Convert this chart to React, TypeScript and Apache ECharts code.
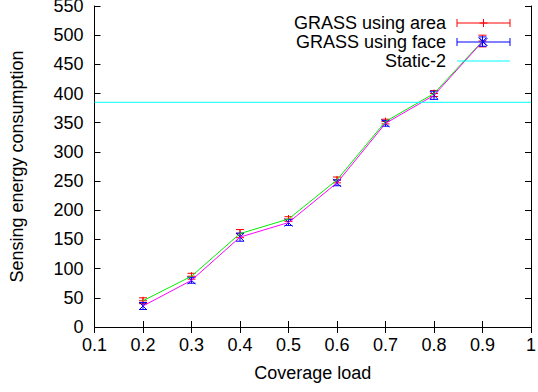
import React, { useEffect, useRef } from "react";
import * as echarts from "echarts";

// Coverage load values where both GRASS variants were measured
const coverageLoad = [0.2, 0.3, 0.4, 0.5, 0.6, 0.7, 0.8, 0.9];
// GRASS using area: mean sensing energy and error half-width
const areaEnergy = [45, 87, 160, 185, 252, 352, 400, 490];
const areaError = [5, 5, 7, 4, 5, 4, 5, 10];
// GRASS using face: mean sensing energy and error half-width
const faceEnergy = [36, 80, 154, 179, 247, 349, 397, 489];
const faceError = [6, 5, 7, 5, 5, 5, 7, 8];
// Static-2 constant level
const static2Level = 385;

// Axis ranges
const xMin = 0.1;
const xMax = 1;
const xStep = 0.1;
const yMin = 0;
const yMax = 550;
const yStep = 50;

const FONT = "'Liberation Sans', Arial, Helvetica, sans-serif";
const FS = 18;

const RED = "#ff0000";
const GREEN = "#00ee00";
const BLUE = "#0000ff";
const MAGENTA = "#ff00ff";
const CYAN = "#00ffff";

type MarkerKind = "plus" | "cross";

function markerLines(cx: number, cy: number, kind: MarkerKind, r: number, color: string) {
  const style = { stroke: color, lineWidth: 1 };
  if (kind === "plus") {
    return [
      { type: "line", shape: { x1: cx - r, y1: cy, x2: cx + r, y2: cy }, style },
      { type: "line", shape: { x1: cx, y1: cy - r, x2: cx, y2: cy + r }, style },
    ];
  }
  return [
    { type: "line", shape: { x1: cx - r, y1: cy - r, x2: cx + r, y2: cy + r }, style },
    { type: "line", shape: { x1: cx - r, y1: cy + r, x2: cx + r, y2: cy - r }, style },
  ];
}

function errorBarSeries(name: string, values: number[], errors: number[], color: string, kind: MarkerKind) {
  return {
    name,
    type: "custom",
    xAxisIndex: 0,
    yAxisIndex: 0,
    data: coverageLoad.map((x, i) => [x, values[i], errors[i]]),
    renderItem: (_params: any, api: any) => {
      const x = api.value(0);
      const y = api.value(1);
      const e = api.value(2);
      const c = api.coord([x, y]);
      const top = api.coord([x, y + e]);
      const bot = api.coord([x, y - e]);
      const cap = 4;
      const style = { stroke: color, lineWidth: 1 };
      return {
        type: "group",
        children: [
          { type: "line", shape: { x1: c[0], y1: top[1], x2: c[0], y2: bot[1] }, style },
          { type: "line", shape: { x1: c[0] - cap, y1: top[1], x2: c[0] + cap, y2: top[1] }, style },
          { type: "line", shape: { x1: c[0] - cap, y1: bot[1], x2: c[0] + cap, y2: bot[1] }, style },
          ...markerLines(c[0], c[1], kind, 4, color),
        ],
      };
    },
    z: 3,
  };
}

function lineSeries(values: number[], color: string) {
  return {
    type: "line",
    xAxisIndex: 0,
    yAxisIndex: 0,
    data: coverageLoad.map((x, i) => [x, values[i]]),
    showSymbol: false,
    symbol: "none",
    lineStyle: { color, width: 1 },
    itemStyle: { color },
    z: 3,
  };
}

// Key entries: right-aligned title followed by a sample glyph
function keyGraphics() {
  const textRight = 446;
  const sx1 = 457;
  const sx2 = 510;
  const mid = (sx1 + sx2) / 2;
  const rows = [
    { label: "GRASS using area", y: 23, color: RED, kind: "plus" as MarkerKind, err: true },
    { label: "GRASS using face", y: 42, color: BLUE, kind: "cross" as MarkerKind, err: true },
    { label: "Static-2", y: 61, color: CYAN, kind: null, err: false },
  ];
  const out: any[] = [];
  rows.forEach((r) => {
    out.push({
      type: "text",
      x: textRight,
      y: r.y,
      style: {
        text: r.label,
        font: `${FS}px ${FONT}`,
        lineHeight: 18,
        fill: "#000",
        textAlign: "right",
        textVerticalAlign: "middle",
      },
      z: 10,
    });
    const style = { stroke: r.color, lineWidth: 1 };
    out.push({ type: "line", shape: { x1: sx1, y1: r.y, x2: sx2, y2: r.y }, style, z: 10 });
    if (r.err) {
      out.push({ type: "line", shape: { x1: sx1, y1: r.y - 4, x2: sx1, y2: r.y + 4 }, style, z: 10 });
      out.push({ type: "line", shape: { x1: sx2, y1: r.y - 4, x2: sx2, y2: r.y + 4 }, style, z: 10 });
      markerLines(mid, r.y, r.kind as MarkerKind, 4, r.color).forEach((m) => out.push({ ...m, z: 10 }));
    }
  });
  return out;
}

const axisBase = {
  type: "value" as const,
  axisLine: { show: true, lineStyle: { color: "#000", width: 1 } },
  axisTick: { show: true, inside: true, length: 6, lineStyle: { color: "#000", width: 1 } },
  splitLine: { show: false },
};

export default function App() {
  const ref = useRef<HTMLDivElement>(null);

  useEffect(() => {
    if (!ref.current) return;
    const chart = echarts.init(ref.current, undefined, { renderer: "svg" });
    const fmtX = (v: number) => (Math.abs(v - 1) < 1e-9 ? "1" : v.toFixed(1));
    chart.setOption({
      animation: false,
      backgroundColor: "#fff",
      textStyle: { fontFamily: FONT },
      grid: {
        left: 94.5,
        right: 7,
        top: 6,
        bottom: 65,
        containLabel: false,
        outerBoundsMode: "none",
      },
      xAxis: [
        {
          ...axisBase,
          position: "bottom",
          min: xMin,
          max: xMax,
          interval: xStep,
          name: "Coverage load",
          nameLocation: "middle",
          nameGap: 37,
          nameTextStyle: { fontSize: FS, color: "#000", fontFamily: FONT },
          axisLabel: { fontSize: FS, color: "#000", margin: 9, fontFamily: FONT, formatter: fmtX },
        },
        {
          ...axisBase,
          position: "top",
          min: xMin,
          max: xMax,
          interval: xStep,
          axisLabel: { show: false },
        },
      ],
      yAxis: [
        {
          ...axisBase,
          position: "left",
          min: yMin,
          max: yMax,
          interval: yStep,
          name: "Sensing energy consumption",
          nameLocation: "middle",
          nameGap: 69,
          nameTextStyle: { fontSize: FS, color: "#000", fontFamily: FONT },
          axisLabel: { fontSize: FS, color: "#000", margin: 11, fontFamily: FONT },
        },
        {
          ...axisBase,
          position: "right",
          min: yMin,
          max: yMax,
          interval: yStep,
          axisLabel: { show: false },
        },
      ],
      series: [
        errorBarSeries("GRASS using area", areaEnergy, areaError, RED, "plus"),
        lineSeries(areaEnergy, GREEN),
        errorBarSeries("GRASS using face", faceEnergy, faceError, BLUE, "cross"),
        lineSeries(faceEnergy, MAGENTA),
        {
          name: "Static-2",
          type: "line",
          data: [
            [xMin, static2Level],
            [xMax, static2Level],
          ],
          symbol: "none",
          lineStyle: { color: CYAN, width: 1 },
          z: 3,
        },
      ],
      graphic: keyGraphics(),
    });
    return () => chart.dispose();
  }, []);

  return <div ref={ref} style={{ width: 538, height: 392, position: "absolute", left: 0, top: 0 }} />;
}
